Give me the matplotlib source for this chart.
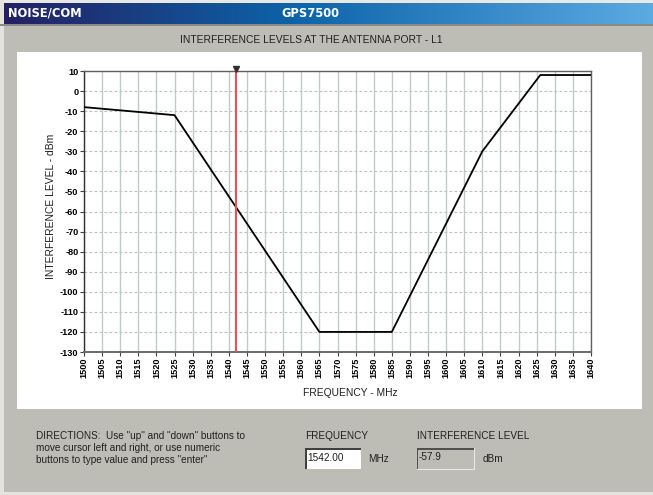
import numpy as np
import matplotlib
matplotlib.use("Agg")
import matplotlib.pyplot as plt
from matplotlib.patches import Rectangle

# ---- data ----
freq_mhz = [1500, 1525, 1565, 1585, 1610, 1626, 1640]
level_dbm = [-8, -12, -120, -120, -30, 8, 8]
cursor_freq = 1542.00
cursor_level = -57.9
x_ticks = list(range(1500, 1641, 5))
y_ticks = list(range(-130, 11, 10))

W, H = 653, 495
fig = plt.figure(figsize=(W / 100, H / 100), dpi=100)
GRAY = "#bebdb5"
fig.patch.set_facecolor(GRAY)

def px_rect(x0, y0, x1, y1, zorder=-2, **kw):
    r = Rectangle((x0 / W, 1 - y1 / H), (x1 - x0) / W, (y1 - y0) / H,
                  transform=fig.transFigure, zorder=zorder, **kw)
    fig.patches.append(r)
    return r

# outer light borders
px_rect(0, 0, W, 3, facecolor="#e8e8e4", edgecolor="none")
px_rect(0, 0, 4, H, facecolor="#e4e4de", edgecolor="none")
px_rect(0, H - 3, W, H, facecolor="#e4e4de", edgecolor="none")

# title bar gradient
tax = fig.add_axes([4 / W, 1 - 24 / H, (W - 4) / W, 21 / H])
grad = np.linspace(0, 1, 256)
c0 = np.array([0x24, 0x20, 0x62]) / 255
c1 = np.array([0x0c, 0x64, 0xaa]) / 255
c2 = np.array([0x5c, 0xaa, 0xe2]) / 255
cols = np.where(grad[:, None] < 0.45,
                c0 + (c1 - c0) * (grad[:, None] / 0.45),
                c1 + (c2 - c1) * ((grad[:, None] - 0.45) / 0.55))
tax.imshow(cols[None, :, :], aspect="auto", extent=[0, 1, 0, 1])
tax.set_axis_off()
px_rect(0, 24, W, 25.5, facecolor="#8a8a86", edgecolor="none")
fig.text(8 / W, 1 - 13.5 / H, "NOISE/COM", color="white", fontsize=8.3,
         fontweight="bold", va="center", ha="left", family="DejaVu Sans")
fig.text(310 / W, 1 - 13.5 / H, "GPS7500", color="white", fontsize=8.3,
         fontweight="bold", va="center", ha="center", family="DejaVu Sans")

fig.text(311 / W, 1 - 40 / H, "INTERFERENCE LEVELS AT THE ANTENNA PORT - L1",
         fontsize=7.4, va="center", ha="center", family="Liberation Sans", color="#202020")

# white panel
px_rect(17, 52, 642, 409, facecolor="white", edgecolor="none")

# ---- chart ----
ax = fig.add_axes([84 / W, 1 - 352 / H, (591 - 84) / W, (352 - 71) / H])
ax.set_zorder(2)
ax.set_facecolor("white")
ax.set_xlim(1500, 1640)
ax.set_ylim(-130, 10)
ax.set_xticks(x_ticks)
ax.set_yticks(y_ticks)
ax.set_xticklabels([str(v) for v in x_ticks], rotation=90, fontsize=6.6,
                   fontweight="bold", family="Liberation Sans")
ax.set_yticklabels([str(v) for v in y_ticks], fontsize=6.6,
                   fontweight="bold", family="Liberation Sans")
ax.tick_params(axis="both", length=3, width=0.8, color="#404040", pad=1.0)
ax.grid(axis="x", color="#c2cac8", linewidth=1.0, linestyle="-")
ax.grid(axis="y", color="#c0c0c0", linewidth=0.8, linestyle=(0, (2.5, 2)))
ax.set_axisbelow(True)
for s in ["top", "right"]:
    ax.spines[s].set_color("#606060")
    ax.spines[s].set_linewidth(1.0)
ax.spines["left"].set_color("#303030")
ax.spines["left"].set_linewidth(1.0)
ax.spines["bottom"].set_color("#6a6a6a")
ax.spines["bottom"].set_linewidth(1.4)

ax.plot(freq_mhz, level_dbm, color="black", linewidth=1.3, zorder=3)
ax.axvline(cursor_freq, color="#e8505c", linewidth=1.5, zorder=4)
ax.plot([cursor_freq], [11], marker="v", markersize=4.5, color="#303030",
        clip_on=False, zorder=5)

fig.text(350 / W, 1 - 393 / H, "FREQUENCY - MHz", fontsize=7.4,
         family="Liberation Sans", color="#202020", ha="center", va="center")
fig.text(51 / W, 1 - 206 / H, "INTERFERENCE LEVEL - dBm", fontsize=7.4,
         family="Liberation Sans", color="#202020", ha="center", va="center",
         rotation=90)

# ---- bottom controls ----
tfont = dict(fontsize=7.2, family="Liberation Sans", color="#202020", va="center")
fig.text(36 / W, 1 - 436 / H, 'DIRECTIONS:  Use "up" and "down" buttons to', **tfont)
fig.text(36 / W, 1 - 448 / H, 'move cursor left and right, or use numeric', **tfont)
fig.text(36 / W, 1 - 460 / H, 'buttons to type value and press "enter"', **tfont)
fig.text(305 / W, 1 - 436 / H, "FREQUENCY", **tfont)
fig.text(417 / W, 1 - 436 / H, "INTERFERENCE LEVEL", **tfont)

px_rect(305, 448, 361, 469, facecolor="white", edgecolor="none")
px_rect(305, 448, 361, 450, facecolor="#404040", edgecolor="none", zorder=-1)
px_rect(305, 448, 307, 469, facecolor="#404040", edgecolor="none", zorder=-1)
fig.text(307 / W, 1 - 458 / H, f"{cursor_freq:.2f}", **tfont)
fig.text(368 / W, 1 - 459 / H, "MHz", **tfont)

px_rect(417, 448, 474, 469, facecolor=GRAY, edgecolor="#e8e8e4", linewidth=0.8)
px_rect(417, 448, 474, 449.5, facecolor="#505050", edgecolor="none", zorder=-1)
px_rect(417, 448, 418.5, 469, facecolor="#505050", edgecolor="none", zorder=-1)
fig.text(419 / W, 1 - 457 / H, f"{cursor_level:.1f}", **tfont)
fig.text(483 / W, 1 - 459 / H, "dBm", **tfont)

fig.savefig("out.png", dpi=100, facecolor=fig.get_facecolor())
